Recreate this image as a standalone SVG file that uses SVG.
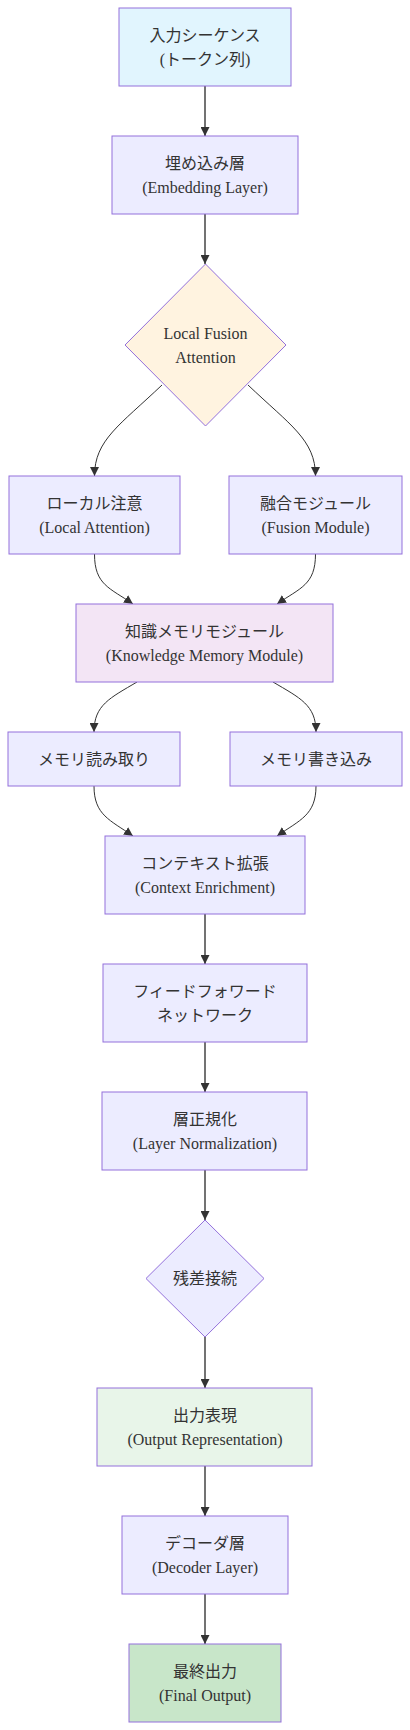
<svg xmlns="http://www.w3.org/2000/svg" width="410" height="1730" viewBox="0 0 410 1730">
<style>
.n{fill:#ECECFF;stroke:#9370DB;stroke-width:1px;}
.t{font-family:"Liberation Serif","Noto Sans CJK JP",serif;font-size:16px;fill:#333;text-anchor:middle;dominant-baseline:central;}
.e{fill:none;stroke:#333;stroke-width:1px;}
.s{stroke-width:1.5px;stroke:#444;}
</style>
<defs>
<marker id="arr" viewBox="0 0 10 10" refX="10" refY="5" markerWidth="9" markerHeight="9" markerUnits="userSpaceOnUse" orient="auto">
<path d="M0,0 L10,5 L0,10 z" fill="#333"/>
</marker>
</defs>
<rect width="410" height="1730" fill="#fff"/>
<g id="edges">
<path class="e s" d="M205,86 L205,136" marker-end="url(#arr)"/>
<path class="e s" d="M205,214 L205,264" marker-end="url(#arr)"/>
<path class="e" d="M162,385 C120,425 94.5,440 94.5,476" marker-end="url(#arr)"/>
<path class="e" d="M248,385 C290,425 315.5,440 315.5,476" marker-end="url(#arr)"/>
<path class="e" d="M94.5,554 C94.5,585 110,588 133,604" marker-end="url(#arr)"/>
<path class="e" d="M315.5,554 C315.5,585 300,588 277,604" marker-end="url(#arr)"/>
<path class="e" d="M137,682 C110,698 94,705 94,732" marker-end="url(#arr)"/>
<path class="e" d="M273,682 C300,698 316,705 316,732" marker-end="url(#arr)"/>
<path class="e" d="M94,786 C94,815 110,820 133,836" marker-end="url(#arr)"/>
<path class="e" d="M316,786 C316,815 300,820 277,836" marker-end="url(#arr)"/>
<path class="e s" d="M205,914 L205,964" marker-end="url(#arr)"/>
<path class="e s" d="M205,1042 L205,1092" marker-end="url(#arr)"/>
<path class="e s" d="M205,1170 L205,1220" marker-end="url(#arr)"/>
<path class="e s" d="M205,1337 L205,1388" marker-end="url(#arr)"/>
<path class="e s" d="M205,1466 L205,1516" marker-end="url(#arr)"/>
<path class="e s" d="M205,1594 L205,1644" marker-end="url(#arr)"/>
</g>
<g id="input">
<rect class="n" x="119" y="8" width="172" height="78" style="fill:#e1f5fe"/>
<text class="t" x="205" y="35">入力シーケンス</text>
<text class="t" x="205" y="59">(トークン列)</text>
</g>
<g id="embedding">
<rect class="n" x="112" y="136" width="186" height="78"/>
<text class="t" x="205" y="163">埋め込み層</text>
<text class="t" x="205" y="187">(Embedding Layer)</text>
</g>
<g id="lfa">
<polygon class="n" points="205.5,264 286,345 205.5,426 125,345" style="fill:#fff3e0"/>
<text class="t" x="205.5" y="333">Local Fusion</text>
<text class="t" x="205.5" y="357">Attention</text>
</g>
<g id="localAttention">
<rect class="n" x="9" y="476" width="171" height="78"/>
<text class="t" x="94.5" y="503">ローカル注意</text>
<text class="t" x="94.5" y="527">(Local Attention)</text>
</g>
<g id="fusionModule">
<rect class="n" x="229" y="476" width="173" height="78"/>
<text class="t" x="315.5" y="503">融合モジュール</text>
<text class="t" x="315.5" y="527">(Fusion Module)</text>
</g>
<g id="knowledgeMemory">
<rect class="n" x="76" y="604" width="257" height="78" style="fill:#f3e5f5"/>
<text class="t" x="204.5" y="631">知識メモリモジュール</text>
<text class="t" x="204.5" y="655">(Knowledge Memory Module)</text>
</g>
<g id="memRead">
<rect class="n" x="8" y="732" width="172" height="54"/>
<text class="t" x="94" y="759">メモリ読み取り</text>
</g>
<g id="memWrite">
<rect class="n" x="230" y="732" width="172" height="54"/>
<text class="t" x="316" y="759">メモリ書き込み</text>
</g>
<g id="context">
<rect class="n" x="105" y="836" width="200" height="78"/>
<text class="t" x="205" y="863">コンテキスト拡張</text>
<text class="t" x="205" y="887">(Context Enrichment)</text>
</g>
<g id="ffn">
<rect class="n" x="103" y="964" width="204" height="78"/>
<text class="t" x="205" y="991">フィードフォワード</text>
<text class="t" x="205" y="1015">ネットワーク</text>
</g>
<g id="layerNorm">
<rect class="n" x="102" y="1092" width="205" height="78"/>
<text class="t" x="205" y="1119">層正規化</text>
<text class="t" x="205" y="1143">(Layer Normalization)</text>
</g>
<g id="residual">
<polygon class="n" points="205,1220 264,1278.5 205,1337 146,1278.5"/>
<text class="t" x="205" y="1278.5">残差接続</text>
</g>
<g id="outputRep">
<rect class="n" x="97" y="1388" width="215" height="78" style="fill:#e8f5e9"/>
<text class="t" x="205" y="1415">出力表現</text>
<text class="t" x="205" y="1439">(Output Representation)</text>
</g>
<g id="decoder">
<rect class="n" x="122" y="1516" width="166" height="78"/>
<text class="t" x="205" y="1543">デコーダ層</text>
<text class="t" x="205" y="1567">(Decoder Layer)</text>
</g>
<g id="final">
<rect class="n" x="129" y="1644" width="152" height="78" style="fill:#c8e6c9"/>
<text class="t" x="205" y="1671">最終出力</text>
<text class="t" x="205" y="1695">(Final Output)</text>
</g>
</svg>
